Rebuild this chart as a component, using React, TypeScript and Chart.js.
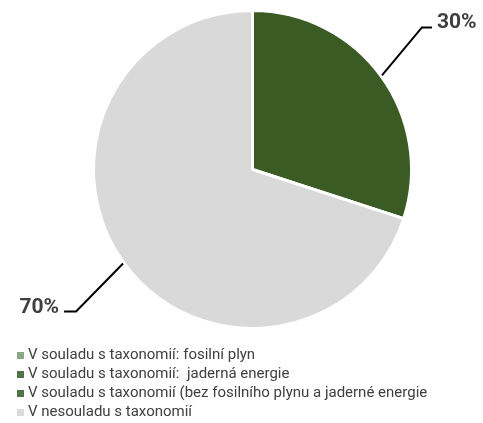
import React, { useEffect, useRef } from "react";
import { Chart, registerables } from "chart.js";

Chart.register(...registerables);

const categories = [
  "V souladu s taxonomií: fosilní plyn",
  "V souladu s taxonomií:  jaderná energie",
  "V souladu s taxonomií (bez fosilního plynu a jaderné energie",
  "V nesouladu s taxonomií",
];
const shares = [0, 0, 30, 70];
const sliceColors = ["#8fae86", "#4e7346", "#3b5b25", "#d9d9d9"];
const legendColors = ["#8aa883", "#4e7346", "#4e7346", "#dadada"];

const LEGEND_FONT = "15px Roboto";
const LABEL_FONT = "bold 21px Roboto";

const leaderPlugin = {
  id: "leaders",
  afterDatasetsDraw(chart: any) {
    const ctx = chart.ctx as CanvasRenderingContext2D;
    const meta = chart.getDatasetMeta(0);
    const values = chart.data.datasets[0].data as number[];
    const total = values.reduce((a, b) => a + b, 0);
    ctx.save();
    meta.data.forEach((arc: any, i: number) => {
      const v = values[i];
      if (!v) return;
      const mid = (arc.startAngle + arc.endAngle) / 2;
      const r = arc.outerRadius + 1;
      const sx = arc.x + Math.cos(mid) * r;
      const sy = arc.y + Math.sin(mid) * r;
      const right = Math.cos(mid) >= 0;
      const ex = sx + (right ? 40 : -47);
      const ey = sy + (right ? -48 : 48);
      const hx = ex + (right ? 10 : -12);
      ctx.strokeStyle = "#000";
      ctx.lineWidth = 2;
      ctx.beginPath();
      ctx.moveTo(sx, sy);
      ctx.lineTo(ex, ey);
      ctx.lineTo(hx, ey);
      ctx.stroke();
      ctx.font = LABEL_FONT;
      ctx.fillStyle = "#404040";
      ctx.textBaseline = "alphabetic";
      ctx.textAlign = right ? "left" : "right";
      const pct = Math.round((v / total) * 100) + "%";
      ctx.fillText(pct, hx + (right ? 5 : -5), ey + 1);
    });
    ctx.restore();
  },
};

const legendPlugin = {
  id: "customLegend",
  afterDraw(chart: any) {
    const ctx = chart.ctx as CanvasRenderingContext2D;
    const labels = chart.data.labels as string[];
    ctx.save();
    ctx.font = LEGEND_FONT;
    ctx.textBaseline = "middle";
    ctx.textAlign = "left";
    labels.forEach((lab, i) => {
      const y = 355 + i * 19;
      ctx.fillStyle = legendColors[i];
      ctx.fillRect(17, y - 3, 7, 7);
      ctx.fillStyle = "#404040";
      ctx.fillText(lab, 28, y + 0.5);
    });
    ctx.restore();
  },
};

export default function App() {
  const ref = useRef<HTMLCanvasElement | null>(null);
  useEffect(() => {
    if (!ref.current) return;
    const chart = new Chart(ref.current, {
      type: "pie",
      data: {
        labels: categories,
        datasets: [
          {
            data: shares,
            backgroundColor: sliceColors,
            borderColor: "#ffffff",
            borderWidth: 3,
          },
        ],
      },
      options: {
        animation: false,
        responsive: true,
        maintainAspectRatio: false,
        layout: { padding: { left: 92, right: 70, top: 9, bottom: 93 } },
        plugins: {
          legend: { display: false },
          tooltip: { enabled: false },
        },
      },
      plugins: [leaderPlugin, legendPlugin],
    });
    return () => chart.destroy();
  }, []);
  return (
    <div style={{ position: "absolute", left: 0, top: 0, width: 483, height: 423 }}>
      <canvas ref={ref} />
    </div>
  );
}
